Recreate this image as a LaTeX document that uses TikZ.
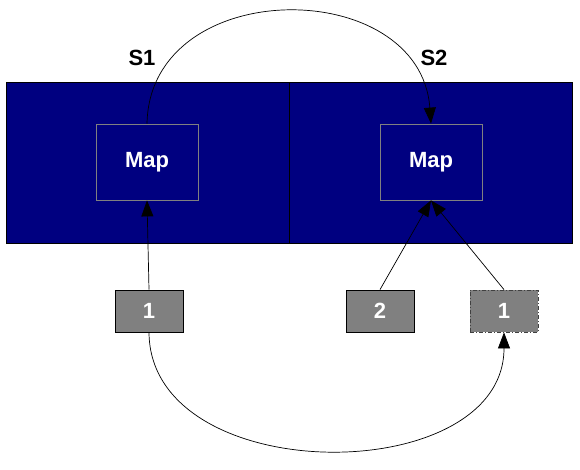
\documentclass[tikz,border=0pt]{standalone}
\usepackage{fontspec}
\setmainfont{Liberation Sans}
\usetikzlibrary{arrows.meta}
\definecolor{navy}{HTML}{000080}
\definecolor{boxgray}{HTML}{808080}
\tikzset{
  stage/.style={draw=black, fill=navy, line width=0.8pt, minimum width=283pt, minimum height=161pt, inner sep=0pt},
  mapbox/.style={draw=boxgray, fill=navy, line width=0.8pt, minimum width=102pt, minimum height=76pt, inner sep=0pt, text=white, font=\bfseries\fontsize{22}{26}\selectfont},
  numbox/.style={draw=black, fill=boxgray, line width=0.8pt, minimum width=68pt, minimum height=42pt, inner sep=0pt, text=white, font=\bfseries\fontsize{22}{26}\selectfont},
  ghostbox/.style={numbox, draw=black!75, dash pattern=on 4pt off 2pt on 1pt off 2pt},
  lbl/.style={font=\bfseries\fontsize{22}{26}\selectfont, text=black, inner sep=0pt},
  arr/.style={draw=black, line width=0.7pt, -{Triangle[length=16pt,width=12pt]}},
}
\begin{document}
\begin{tikzpicture}[x=1pt,y=-1pt]
\useasboundingbox (0,0) rectangle (580,470);
\node[stage] (s1) at (147.5,162.5) {};
\node[stage] (s2) at (431,162.5) {};
\node[mapbox] (m1) at (147,162) {Map};
\node[mapbox] (m2) at (431,162) {Map};
\node[lbl] (l1) at (142,58) {S1};
\node[lbl] (l2) at (434,58) {S2};
\node[numbox] (b1) at (149,311) {1};
\node[numbox] (b2) at (380,311) {2};
\node[ghostbox] (b3) at (504,311) {1};
\draw[arr] (b1.north) -- (m1.south);
\draw[arr] (b2.north) -- (m2.south);
\draw[arr] (b3.north) -- (m2.south);
\draw[arr] (m1.north) .. controls +(3,-149) and +(-11,-149) .. (m2.north);
\draw[arr] (b1.south) .. controls +(1,157) and +(0,157) .. (b3.south);
\end{tikzpicture}
\end{document}
